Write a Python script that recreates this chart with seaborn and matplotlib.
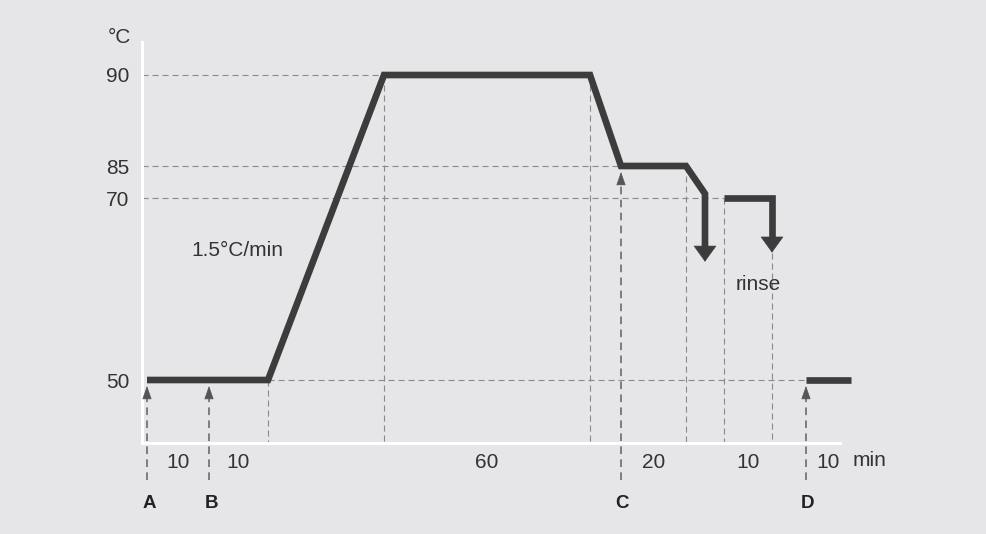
import numpy as np
import pandas as pd
import matplotlib
matplotlib.use("Agg")
import matplotlib.pyplot as plt
import seaborn as sns

# temperature levels (°C) shown on the axis
levels = [50, 70, 85, 90]
level_labels = ["50", "70", "85", "90"]

# step durations (min) and the middle of each step
durations = ["10", "10", "60", "20", "10", "10"]
duration_mid = [5, 15, 76.7, 120, 140, 160]

# main run: hold 50, ramp 1.5°C/min to 90, hold 60, cool to 85, hold 20, drain
profile_time = [0, 20, 46.7, 106.7, 110, 130, 133, 133]
profile_temp = [50, 50, 90, 90, 85, 85, 72, 63]
# rinse at 70 then drain
rinse_time = [135, 145, 145]
rinse_temp = [70, 70, 64]
# last step
end_time = [155, 165]
end_temp = [50, 50]

# points where things are added
events = ["A", "B", "C", "D"]
event_time = [0, 10, 110, 155]
event_temp = [50, 50, 85, 50]

# dashed guides
hguide_temp = [90, 85, 70, 50]
hguide_from = [None, None, None, 20]
hguide_to = [46.7, 110, 135, 155]
vguide_time = [20, 46.7, 106.7, 130, 135, 145]
vguide_temp = [50, 90, 90, 85, 70, 64]

# the drawing is schematic, so time and temperature go through a piecewise scale
time_anchor = [0, 10, 20, 46.7, 106.7, 110, 130, 133, 135, 145, 155, 165]
time_px = [147, 209, 268, 384, 590, 621, 686, 705, 724, 772, 806, 851]
temp_anchor = [50, 70, 85, 90]
temp_px = [-380, -198, -166, -75]


def piecewise(src, dst):
    src = np.asarray(src, float)
    dst = np.asarray(dst, float)
    k0 = (dst[1] - dst[0]) / (src[1] - src[0])
    k1 = (dst[-1] - dst[-2]) / (src[-1] - src[-2])

    def f(v):
        v = np.asarray(v, float)
        out = np.interp(v, src, dst)
        out = np.where(v < src[0], dst[0] + (v - src[0]) * k0, out)
        out = np.where(v > src[-1], dst[-1] + (v - src[-1]) * k1, out)
        return out
    return f


fx = piecewise(time_anchor, time_px)
fx_inv = piecewise(time_px, time_anchor)
fy = piecewise(temp_anchor, temp_px)
fy_inv = piecewise(temp_px, temp_anchor)


def shift(T, px):
    # move a temperature by some pixels on the schematic scale (up is +)
    return float(fy_inv(fy(T) + px))


BG = "#e6e6e8"
LINE = "#3c3c3c"
GUIDE = "#8a8a8a"
TEXT = "#333333"

sns.set_style("white", {"axes.facecolor": BG, "figure.facecolor": BG})
plt.rcParams["font.family"] = ["Liberation Sans", "DejaVu Sans"]

fig = plt.figure(figsize=(9.86, 5.34), dpi=100)
ax = fig.add_axes([0, 0, 1, 1])
ax.set_xscale("function", functions=(fx, fx_inv))
ax.set_yscale("function", functions=(fy, fy_inv))
ax.set_xlim(float(fx_inv(0)), float(fx_inv(986)))
ax.set_ylim(float(fy_inv(-534)), float(fy_inv(0)))

x_axis = float(fx_inv(141.5))
y_axis = float(fy_inv(-443))

# dashed guides
for T, a, b in zip(hguide_temp, hguide_from, hguide_to):
    a = x_axis if a is None else a
    ax.plot([a, b], [T, T], color=GUIDE, lw=0.8, dashes=(5.5, 3.5), zorder=1)
for t, T in zip(vguide_time, vguide_temp):
    ax.plot([t, t], [T, y_axis], color=GUIDE, lw=0.8, dashes=(5.5, 3.5), zorder=1)

# temperature profile
df = pd.concat([
    pd.DataFrame({"time": profile_time, "temp": profile_temp[:-1] + [shift(profile_temp[-1], 13)], "stage": "main"}),
    pd.DataFrame({"time": rinse_time, "temp": rinse_temp[:-1] + [shift(rinse_temp[-1], 13)], "stage": "rinse"}),
    pd.DataFrame({"time": end_time, "temp": end_temp, "stage": "end"}),
])
sns.lineplot(data=df, x="time", y="temp", units="stage", estimator=None, sort=False,
             color=LINE, lw=4.8, solid_capstyle="butt", solid_joinstyle="miter",
             legend=False, ax=ax, zorder=4)

# drain arrow heads
for t, tip in [(profile_time[-1], profile_temp[-1]), (rinse_time[-1], rinse_temp[-1])]:
    ax.annotate("", xy=(t, tip), xytext=(t, shift(tip, 30)),
                arrowprops=dict(arrowstyle="-|>,head_length=1.08,head_width=0.78",
                                fc=LINE, ec=LINE, lw=0.5, shrinkA=0, shrinkB=0,
                                mutation_scale=10), zorder=4)

# small arrows for A..D
bottom = float(fy_inv(-480))
letter_y = float(fy_inv(-503))
for name, t, T in zip(events, event_time, event_temp):
    tip = shift(T, -6)
    base = shift(T, -17)
    ax.plot([t, t], [bottom, base], color="#606060", lw=1.1, dashes=(5, 3.5), zorder=3,
            clip_on=False)
    ax.annotate("", xy=(t, tip), xytext=(t, base),
                arrowprops=dict(arrowstyle="-|>,head_length=0.85,head_width=0.3",
                                fc="#555555", ec="#555555", lw=0.5, shrinkA=0, shrinkB=0,
                                mutation_scale=10), zorder=3)
    ax.text(t + 0.4, letter_y, name, ha="center", va="center", fontsize=13.5,
            fontweight="bold", color="#222222")

# axes
for s in ["top", "right"]:
    ax.spines[s].set_visible(False)
ax.spines["left"].set_position(("data", x_axis))
ax.spines["bottom"].set_position(("data", y_axis))
ax.spines["left"].set_bounds(y_axis, float(fy_inv(-42)))
ax.spines["bottom"].set_bounds(x_axis, float(fx_inv(840)))
for s in ["left", "bottom"]:
    ax.spines[s].set_color("white")
    ax.spines[s].set_linewidth(2.2)
    ax.spines[s].set_zorder(2)

ax.set_yticks(levels, level_labels)
ax.set_xticks(duration_mid, durations)
ax.minorticks_off()
ax.tick_params(axis="y", length=0, pad=8.5, labelsize=15, labelcolor=TEXT)
ax.tick_params(axis="x", length=0, pad=7, labelsize=15, labelcolor=TEXT)
ax.set_xlabel("")
ax.set_ylabel("")
ax.grid(False)

ax.text(float(fx_inv(119)), float(fy_inv(-38)), "°C", ha="center", va="center",
        fontsize=15, color=TEXT)
ax.text(float(fx_inv(853)), float(fy_inv(-460)), "min", ha="left", va="center",
        fontsize=15, color=TEXT)
ax.text(float(fx_inv(237)), float(fy_inv(-250)), "1.5°C/min", ha="center", va="center",
        fontsize=15, color=TEXT)
ax.text(float(fx_inv(758)), float(fy_inv(-285)), "rinse", ha="center", va="center",
        fontsize=15, color=TEXT)

fig.savefig("out.png", dpi=100, facecolor=BG)
